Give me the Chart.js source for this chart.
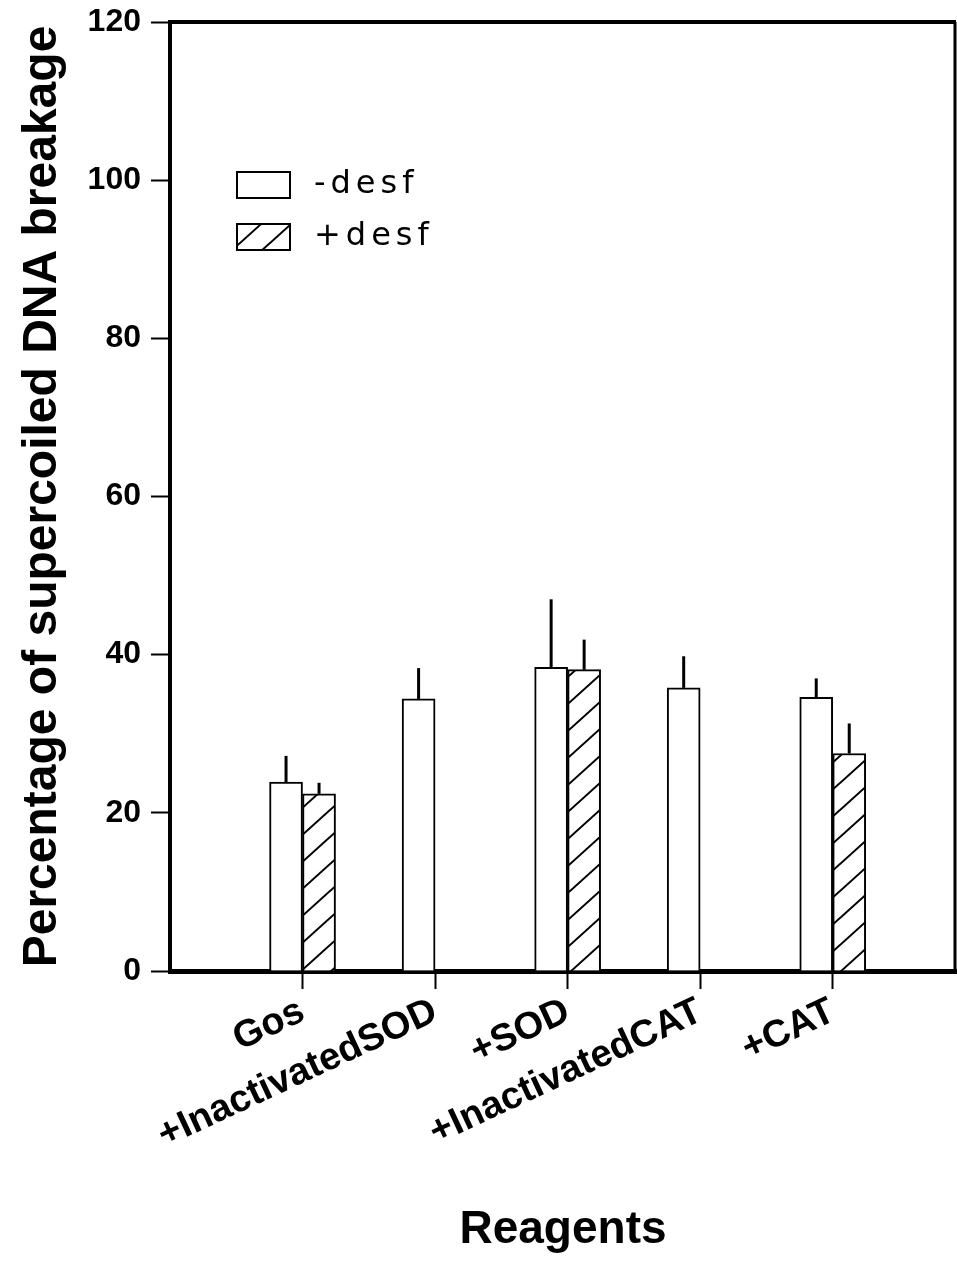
<!DOCTYPE html>
<html>
<head>
<meta charset="utf-8">
<script src="https://cdn.jsdelivr.net/npm/chart.js@4.4.1/dist/chart.umd.min.js"></script>
<style>
  body { margin: 0; background: #fff; }
  canvas { display: block; }
</style>
</head>
<body>
<canvas id="chart" width="957" height="1262"></canvas>
<script>
// Data
const categories = ['Gos', '+InactivatedSOD', '+SOD', '+InactivatedCAT', '+CAT'];
const minusDesf = [23.9, 34.4, 38.4, 35.8, 34.6];
const minusDesfErr = [3.3, 3.9, 8.6, 4.0, 2.4];
const plusDesf = [22.4, null, 38.1, null, 27.5];
const plusDesfErr = [1.4, null, 3.8, null, 3.8];
const yTicks = [0, 20, 40, 60, 80, 100, 120];

function start() {
    // hatch pattern for the +desf bars
    function makeHatch() {
        const w = 30, h = 27;
        const tile = document.createElement('canvas');
        tile.width = w;
        tile.height = h;
        const t = tile.getContext('2d');
        t.fillStyle = '#fff';
        t.fillRect(0, 0, w, h);
        t.strokeStyle = '#000';
        t.lineWidth = 2;
        for (let k = 0; k <= 2; k++) {
            // lines x/w + y/h = k
            t.beginPath();
            t.moveTo(-w, (k + 1) * h);
            t.lineTo(2 * w, (k - 2) * h);
            t.stroke();
        }
        return t.createPattern(tile, 'repeat');
    }

    const ctx = document.getElementById('chart').getContext('2d');
    const hatch = makeHatch();

    // error bars: only the upper whisker, no cap
    const errorBars = {
        id: 'errorBars',
        afterDatasetsDraw(chart) {
            const c = chart.ctx;
            const y = chart.scales.y;
            const errs = [minusDesfErr, plusDesfErr];
            const vals = [minusDesf, plusDesf];
            c.save();
            c.strokeStyle = '#000';
            c.lineWidth = 3;
            chart.data.datasets.forEach((ds, i) => {
                const meta = chart.getDatasetMeta(i);
                meta.data.forEach((bar, j) => {
                    if (vals[i][j] == null || errs[i][j] == null) return;
                    c.beginPath();
                    c.moveTo(bar.x, y.getPixelForValue(vals[i][j]));
                    c.lineTo(bar.x, y.getPixelForValue(vals[i][j] + errs[i][j]));
                    c.stroke();
                });
            });
            c.restore();
        }
    };

    // top and right frame lines + the legend inside the plot
    const frameAndLegend = {
        id: 'frameAndLegend',
        afterDraw(chart) {
            const c = chart.ctx;
            const a = chart.chartArea;
            c.save();
            c.strokeStyle = '#000';
            c.lineWidth = 4;
            c.beginPath();
            c.moveTo(a.left, a.top);
            c.lineTo(a.right, a.top);
            c.stroke();
            c.lineWidth = 3;
            c.beginPath();
            c.moveTo(a.right - 1, a.top);
            c.lineTo(a.right - 1, a.bottom);
            c.stroke();

            const items = [
                { text: '-desf', fill: '#fff', top: 172 },
                { text: '+desf', fill: hatch, top: 224 }
            ];
            c.lineWidth = 2;
            c.font = '32px "DejaVu Sans"';
            c.letterSpacing = '5px';
            c.textBaseline = 'middle';
            items.forEach(it => {
                c.fillStyle = it.fill;
                c.fillRect(a.left + 67, it.top, 53, 26);
                c.strokeRect(a.left + 67, it.top, 53, 26);
                c.fillStyle = '#000';
                c.fillText(it.text, a.left + 144, it.top + 13);
            });
            c.restore();
        }
    };

    new Chart(ctx, {
        type: 'bar',
        data: {
            datasets: [{
                label: '-desf',
                data: categories.map((c, i) => ({ x: i + 1, y: minusDesf[i] })),
                backgroundColor: '#fff',
                borderColor: '#000',
                borderWidth: 2,
                barThickness: 33
            }, {
                label: '+desf',
                data: categories.map((c, i) => ({ x: i + 1, y: plusDesf[i] })),
                backgroundColor: hatch,
                borderColor: '#000',
                borderWidth: 2,
                barThickness: 33
            }]
        },
        options: {
            responsive: false,
            animation: false,
            layout: { padding: { top: 22, right: 1, left: 0, bottom: 0 } },
            plugins: {
                legend: { display: false },
                tooltip: { enabled: false }
            },
            scales: {
                x: {
                    type: 'linear',
                    min: 0,
                    max: 5.93,
                    offset: false,
                    afterBuildTicks: scale => {
                        scale.ticks = categories.map((c, i) => ({ value: i + 1 }));
                    },
                    afterFit: scale => { scale.height = 291; },
                    grid: { offset: false, drawOnChartArea: false, drawTicks: true, tickLength: 18, tickWidth: 2, tickColor: '#000' },
                    border: { display: true, width: 5, color: '#000' },
                    ticks: {
                        autoSkip: false,
                        minRotation: 25,
                        maxRotation: 25,
                        padding: 0,
                        color: '#000',
                        font: { family: '"Liberation Sans"', size: 38, weight: 'bold' },
                        callback: v => categories[v - 1] || ''
                    },
                    title: {
                        display: true,
                        text: 'Reagents',
                        color: '#000',
                        font: { family: '"Liberation Sans"', size: 46, weight: 'bold' },
                        padding: { top: 0, bottom: 4 }
                    }
                },
                y: {
                    min: 0,
                    max: 120,
                    afterBuildTicks: scale => {
                        scale.ticks = yTicks.map(v => ({ value: v }));
                    },
                    afterFit: scale => {
                        scale.width = 170;
                        scale.paddingTop = 0;
                        scale.paddingBottom = 0;
                    },
                    grid: { drawOnChartArea: false, drawTicks: true, tickLength: 19, tickWidth: 2, tickColor: '#000' },
                    border: { display: true, width: 4, color: '#000' },
                    ticks: {
                        padding: 10,
                        color: '#000',
                        font: { family: '"Liberation Sans"', size: 32, weight: 'bold' }
                    },
                    title: {
                        display: true,
                        text: 'Percentage of supercoiled DNA breakage',
                        color: '#000',
                        font: { family: '"Liberation Sans"', size: 48, weight: 'bold' },
                        padding: { top: 14, bottom: 0 }
                    }
                }
            }
        },
        plugins: [errorBars, frameAndLegend]
    });
}

window.addEventListener('load', start, false);
</script>
</body>
</html>
